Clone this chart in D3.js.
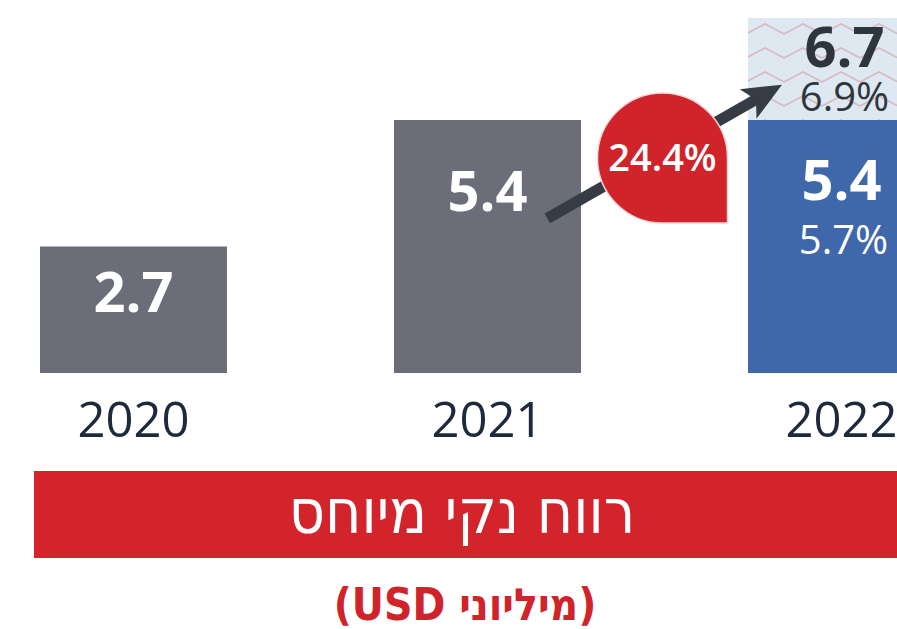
<!DOCTYPE html>
<html>
<head>
<meta charset="utf-8">
<script src="https://cdn.jsdelivr.net/npm/d3@7"></script>
<style>
  body { margin: 0; background: #fff; }
  svg { display: block; }
</style>
</head>
<body>
<div id="chart"></div>
<script>
var width = 897;
var height = 629;

// data
var years = ["2020", "2021", "2022"];
var values = [2.7, 5.4, 5.4];
var topValue = 6.7;          // 2022 total incl. the hatched part
var basePct = "5.7%";
var topPct = "6.9%";
var growth = "24.4%";
var title = "רווח נקי מיוחס";
var subtitle = "(מיליוני USD)";

var svg = d3.select("#chart")
            .append("svg")
            .attr("width", width)
            .attr("height", height);

// step 354, bar 187 -> last bar runs past the right edge
var x = d3.scaleBand()
    .domain(years)
    .range([40, 935])
    .paddingInner(167 / 354)
    .paddingOuter(0);

// base of bars sits at 373
var y = d3.scaleLinear()
    .domain([0, 5.4, 6.7])
    .range([373, 120, 18]);

var grey = "#6b6e79";
var blue = "#3f68ab";
var red = "#d3232b";
var dark = "#2f353d";

// zigzag pattern for the 2022 top part
var defs = svg.append("defs");
var pat = defs.append("pattern")
    .attr("id", "zig")
    .attr("patternUnits", "userSpaceOnUse")
    .attr("width", 38)
    .attr("height", 24)
    .attr("x", 746)
    .attr("y", 14);
pat.append("rect").attr("width", 38).attr("height", 24).attr("fill", "#dde8f1");
pat.append("path")
    .attr("d", "M0,20 L19,10 L38,20")
    .attr("fill", "none")
    .attr("stroke", "#d9b9c2")
    .attr("stroke-width", 1.6);

var bars = svg.append("g");

bars.selectAll("rect.bar")
    .data(values)
    .enter()
    .append("rect")
    .attr("class", "bar")
    .attr("x", function(d, i){ return x(years[i]); })
    .attr("y", function(d){ return y(d); })
    .attr("width", x.bandwidth())
    .attr("height", function(d){ return y(0) - y(d); })
    .attr("fill", function(d, i){ return i == 2 ? blue : grey; });

// hatched top of 2022
bars.append("rect")
    .attr("x", x("2022"))
    .attr("y", y(topValue))
    .attr("width", x.bandwidth())
    .attr("height", y(values[2]) - y(topValue))
    .attr("fill", "url(#zig)");

// value labels
var labels = svg.append("g")
    .attr("font-family", "'Open Sans', sans-serif")
    .attr("text-anchor", "middle");

labels.append("text")
    .attr("x", x("2020") + x.bandwidth() / 2)
    .attr("y", y(values[0]) + 65)
    .attr("font-size", 56).attr("font-weight", 700).attr("fill", "#fff")
    .text(values[0].toFixed(1));

labels.append("text")
    .attr("x", x("2021") + x.bandwidth() / 2)
    .attr("y", y(values[1]) + 91)
    .attr("font-size", 56).attr("font-weight", 700).attr("fill", "#fff")
    .text(values[1].toFixed(1));

var cx22 = x("2022") + x.bandwidth() / 2;
labels.append("text")
    .attr("x", cx22).attr("y", y(values[2]) + 80)
    .attr("font-size", 56).attr("font-weight", 700).attr("fill", "#fff")
    .text(values[2].toFixed(1));
labels.append("text")
    .attr("x", cx22 + 2).attr("y", y(values[2]) + 134)
    .attr("font-size", 40).attr("fill", "#fff")
    .text(basePct);
labels.append("text")
    .attr("x", cx22 + 3).attr("y", y(topValue) + 49)
    .attr("font-size", 56).attr("font-weight", 700).attr("fill", dark)
    .text(topValue.toFixed(1));
labels.append("text")
    .attr("x", cx22 + 3).attr("y", y(topValue) + 93)
    .attr("font-size", 40).attr("fill", dark)
    .text(topPct);

// year axis labels
svg.append("g").selectAll("text")
    .data(years)
    .enter()
    .append("text")
    .attr("x", function(d){ return x(d) + x.bandwidth() / 2; })
    .attr("y", 437)
    .attr("text-anchor", "middle")
    .attr("font-family", "'Open Sans', sans-serif")
    .attr("font-size", 49)
    .attr("fill", "#1e2a3b")
    .text(function(d){ return d; });

// growth arrow
var x0 = x("2021") + x.bandwidth() * 0.82, y0 = y(3.3);
var x1 = x("2022") + 34, y1 = y(5.85);
var ang = Math.atan2(y1 - y0, x1 - x0);
var headLen = 30, headW = 17;
var bx = x1 - headLen * Math.cos(ang), by = y1 - headLen * Math.sin(ang);
var nx = -Math.sin(ang), ny = Math.cos(ang);
svg.append("line")
    .attr("x1", x0).attr("y1", y0)
    .attr("x2", bx + 8 * Math.cos(ang)).attr("y2", by + 8 * Math.sin(ang))
    .attr("stroke", "#353c44")
    .attr("stroke-width", 11);
var nb = headLen * 0.3;
svg.append("path")
    .attr("d", "M" + x1 + "," + y1 +
        " L" + (bx - nb * Math.cos(ang) + headW * nx) + "," + (by - nb * Math.sin(ang) + headW * ny) +
        " L" + bx + "," + by +
        " L" + (bx - nb * Math.cos(ang) - headW * nx) + "," + (by - nb * Math.sin(ang) - headW * ny) + " Z")
    .attr("fill", "#353c44");

// red balloon
var bcx = (x("2021") + x.bandwidth() + x("2022")) / 2 - 2;
var bcy = 158, r = 65;
svg.append("path")
    .attr("d", "M" + (bcx + r) + "," + bcy +
        " L" + (bcx + r) + "," + (bcy + r) +
        " L" + bcx + "," + (bcy + r) +
        " A" + r + "," + r + " 0 0 1 " + (bcx - r) + "," + bcy +
        " A" + r + "," + r + " 0 0 1 " + bcx + "," + (bcy - r) +
        " A" + r + "," + r + " 0 0 1 " + (bcx + r) + "," + bcy + " Z")
    .attr("fill", "#d0232a")
    .attr("stroke", "#f3d6d6")
    .attr("stroke-width", 1.5);
svg.append("text")
    .attr("x", bcx).attr("y", bcy + 13)
    .attr("text-anchor", "middle")
    .attr("font-family", "'Open Sans', sans-serif")
    .attr("font-size", 38).attr("font-weight", 600)
    .attr("fill", "#fff")
    .text(growth);

// title banner
svg.append("rect")
    .attr("x", 34).attr("y", 471)
    .attr("width", width - 34).attr("height", 87)
    .attr("fill", red);
svg.append("text")
    .attr("x", 462).attr("y", 533)
    .attr("text-anchor", "middle")
    .attr("direction", "rtl")
    .attr("font-family", "'DejaVu Sans Condensed', 'DejaVu Sans', sans-serif")
    .attr("font-size", 62)
    .attr("fill", "#fff")
    .text(title);

svg.append("text")
    .attr("x", 465).attr("y", 620)
    .attr("text-anchor", "middle")
    .attr("direction", "rtl")
    .attr("font-family", "'DejaVu Sans Condensed', 'DejaVu Sans', sans-serif")
    .attr("font-size", 44)
    .attr("font-weight", 700)
    .attr("fill", "#d0232a")
    .text(subtitle);
</script>
</body>
</html>
